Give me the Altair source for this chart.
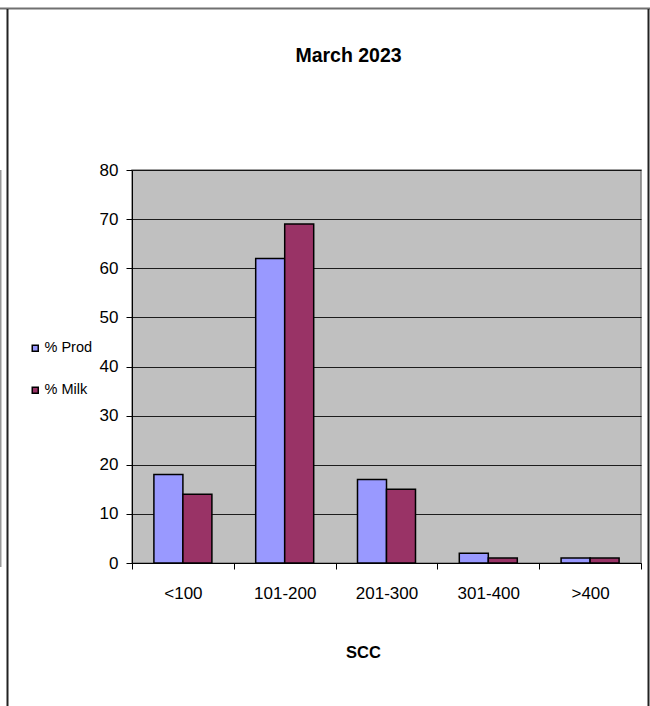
import altair as alt
import pandas as pd

categories = ["<100", "101-200", "201-300", "301-400", ">400"]
series = ["% Prod", "% Milk"]
prod_values = [18, 62, 17, 2, 1]
milk_values = [14, 69, 15, 1, 1]
colors = ["#9999FF", "#993366"]

rows = []
for c, p, m in zip(categories, prod_values, milk_values):
    rows.append({"SCC": c, "Series": series[0], "Value": p})
    rows.append({"SCC": c, "Series": series[1], "Value": m})
df = pd.DataFrame(rows)

FONT = "Liberation Sans, Arial"

bars = alt.Chart(df).mark_bar(stroke="black", strokeWidth=1.5).encode(
    x=alt.X("SCC:N", sort=categories,
            scale=alt.Scale(paddingInner=0, paddingOuter=0),
            axis=alt.Axis(title="SCC", labelAngle=0, tickBand="extent",
                          domainColor="black", tickColor="black", tickSize=6,
                          labelFontSize=17, labelPadding=16, labelColor="black",
                          labelFont=FONT, titleFont=FONT, titleFontSize=16.5,
                          titleFontWeight="bold", titleColor="black",
                          titleX=231, titleY=89, titleBaseline="middle",
                          titleAlign="center")),
    xOffset=alt.XOffset("Series:N", sort=series,
                        scale=alt.Scale(paddingInner=0, paddingOuter=0.755)),
    y=alt.Y("Value:Q", scale=alt.Scale(domain=[0, 80]),
            axis=alt.Axis(title=None, values=list(range(0, 81, 10)),
                          domainColor="black", tickColor="black", tickSize=6,
                          gridColor="#000000", gridOpacity=0.85, gridWidth=1,
                          labelFontSize=17, labelPadding=8, labelColor="black",
                          labelFont=FONT)),
    color=alt.Color("Series:N", sort=series,
                    scale=alt.Scale(domain=series, range=colors),
                    legend=alt.Legend(title=None, orient="none",
                                      legendX=-104, legendY=171,
                                      symbolType="square", symbolSize=36,
                                      symbolStrokeColor="black",
                                      symbolStrokeWidth=1.5,
                                      labelFont=FONT, labelFontSize=14.5,
                                      labelColor="black", rowPadding=27,
                                      labelOffset=2)),
)

frame_top = alt.Chart(alt.Data(values=[{}])).mark_rule(color="#707070", strokeWidth=2).encode(
    x=alt.value(-132), x2=alt.value(518), y=alt.value(-161.5))
frame_left = alt.Chart(alt.Data(values=[{}])).mark_rule(color="#222222", strokeWidth=2).encode(
    x=alt.value(-124.5), y=alt.value(-161), y2=alt.value(536))
frame_right = alt.Chart(alt.Data(values=[{}])).mark_rule(color="#222222", strokeWidth=2).encode(
    x=alt.value(516.5), y=alt.value(-161), y2=alt.value(536))
frame_edge = alt.Chart(alt.Data(values=[{}])).mark_rule(color="#999999", strokeWidth=2).encode(
    x=alt.value(-131.5), y=alt.value(0), y2=alt.value(397))

chart = alt.layer(bars, frame_top, frame_left, frame_right, frame_edge).properties(
    width=509, height=393,
    background="white",
    title=alt.TitleParams("March 2023", font=FONT, fontSize=19.5, fontWeight="bold",
                          color="black", dx=-38, dy=59, offset=0),
    autosize=alt.AutoSizeParams(type="none"),
    padding={"left": 132, "top": 170, "right": 9, "bottom": 143},
).configure_view(
    fill="#C0C0C0", stroke="#808080", strokeWidth=1.5
)

chart.save("out.html", embed_options={"renderer": "svg", "actions": False})
